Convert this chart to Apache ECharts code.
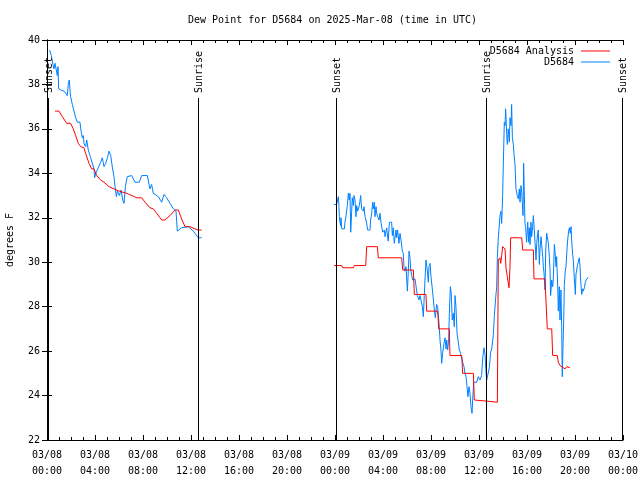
<!DOCTYPE html>
<html>
<head>
<meta charset="utf-8">
<script src="https://cdn.jsdelivr.net/npm/echarts@6/dist/echarts.min.js"></script>
<style>html,body{margin:0;padding:0;background:#fff}#c{width:640px;height:480px}</style>
</head>
<body>
<div id="c"></div>
<script>
// Hours since 03/08 00:00 UTC
const tickDates = ['03/08','03/08','03/08','03/08','03/08','03/08','03/09','03/09','03/09','03/09','03/09','03/09','03/10'];
const tickTimes = ['00:00','04:00','08:00','12:00','16:00','20:00','00:00','04:00','08:00','12:00','16:00','20:00','00:00'];
const yTicks = [22,24,26,28,30,32,34,36,38,40];

const sunLabels = ['Sunset','Sunrise','Sunset','Sunrise','Sunset'];
const sunHours = [0.1, 12.6, 24.08, 36.58, 47.9];

const redH1 = [0.67,1.0,1.28,1.64,1.97,2.19,2.39,2.61,2.81,3.08,3.22,3.5,3.72,3.92,4.14,4.47,4.75,5.17,5.58,6.0,6.64,7.48,7.89,8.17,8.58,8.86,9.14,9.56,9.83,10.25,10.67,10.94,11.22,11.5,11.92,12.33,12.61,12.89];
const redV1 = [36.8,36.8,36.55,36.25,36.25,36.0,35.7,35.35,35.2,35.15,34.9,34.45,34.2,34.2,33.9,33.7,33.6,33.4,33.3,33.2,33.1,32.9,32.9,32.7,32.45,32.4,32.2,31.9,31.9,32.1,32.35,32.35,31.95,31.6,31.6,31.5,31.45,31.45];

const redH2 = [23.92,24.56,24.64,25.53,25.61,26.56,26.64,27.53,27.61,29.56,29.64,30.53,30.61,31.58,31.64,32.56,32.64,33.53,33.58,34.56,34.64,35.53,35.61,36.64,37.53,37.61,37.75,37.81,37.89,37.97,38.17,38.25,38.36,38.5,38.58,38.64,39.56,39.64,40.53,40.58,41.5,41.58,41.69,42.06,42.14,42.53,42.61,42.75,42.89,43.17,43.31,43.58];
const redV2 = [29.85,29.85,29.75,29.75,29.85,29.85,30.7,30.7,30.2,30.2,29.65,29.65,28.55,28.55,27.8,27.8,27.0,27.0,25.8,25.8,25.0,25.0,23.8,23.75,23.7,30.1,30.2,29.95,30.3,30.7,30.6,29.75,29.35,28.85,29.75,31.1,31.1,30.55,30.55,29.25,29.25,28.3,27.0,27.0,25.8,25.8,25.5,25.35,25.3,25.2,25.3,25.25];

const blueH1 = [0.22,0.36,0.5,0.58,0.67,0.78,0.86,0.92,0.97,1.14,1.42,1.69,1.78,1.86,1.92,1.97,2.11,2.25,2.39,2.53,2.75,2.81,2.94,3.03,3.08,3.22,3.31,3.44,3.58,3.64,3.92,3.97,4.06,4.19,4.47,4.61,4.75,4.89,5.03,5.17,5.31,5.44,5.58,5.67,5.78,5.86,6.03,6.17,6.31,6.42,6.53,6.69,7.06,7.33,7.69,7.89,8.36,8.58,8.72,8.86,9.28,9.56,9.75,9.97,10.25,10.53,10.75,10.86,11.22,11.78,12.19,12.61,12.89];
const blueV1 = [39.55,39.3,38.9,38.7,38.95,39.0,38.4,38.8,37.8,37.75,37.7,37.5,38.05,38.2,37.7,37.45,37.1,36.8,36.5,36.3,36.3,36.0,35.6,35.7,35.35,35.2,35.5,35.05,34.8,34.7,34.2,33.8,34.0,34.15,34.5,34.7,34.3,34.45,34.7,35.0,34.8,34.3,33.85,33.4,32.95,33.2,33.0,33.25,32.8,32.65,33.4,33.85,33.9,33.6,33.6,33.9,33.9,33.3,33.5,33.1,32.95,32.7,33.05,32.9,32.65,32.4,32.3,31.4,31.55,31.6,31.4,31.1,31.1];

const blueH2 = [23.92,24.14,24.19,24.28,24.33,24.36,24.42,24.47,24.5,24.56,24.78,24.83,24.92,25.03,25.11,25.19,25.25,25.31,25.39,25.44,25.53,25.58,25.67,25.75,25.81,25.89,26.03,26.14,26.22,26.36,26.42,26.5,26.58,26.64,26.72,26.92,26.97,27.06,27.14,27.19,27.28,27.33,27.42,27.47,27.56,27.67,27.75,27.83,27.97,28.11,28.17,28.31,28.39,28.44,28.53,28.72,28.78,28.86,28.94,29.08,29.14,29.22,29.33,29.42,29.5,29.61,29.69,29.75,29.83,29.92,30.03,30.11,30.17,30.25,30.31,30.47,30.67,30.81,30.86,31.0,31.08,31.17,31.28,31.36,31.44,31.58,31.69,31.78,31.83,31.92,32.0,32.11,32.19,32.28,32.36,32.47,32.56,32.69,32.75,32.83,32.89,32.97,33.08,33.17,33.25,33.31,33.39,33.47,33.53,33.61,33.69,33.77,33.86,33.94,34.0,34.08,34.17,34.25,34.36,34.44,34.56,34.64,34.75,34.83,34.92,35.0,35.08,35.17,35.25,35.33,35.42,35.47,35.56,35.81,35.94,36.08,36.22,36.31,36.42,36.5,36.58,36.64,36.78,36.86,36.97,37.06,37.19,37.28,37.39,37.47,37.53,37.61,37.75,37.83,37.89,37.97,38.03,38.11,38.17,38.22,38.31,38.36,38.44,38.53,38.58,38.67,38.72,38.78,38.86,38.92,39.0,39.08,39.19,39.28,39.36,39.42,39.5,39.56,39.61,39.67,39.72,39.78,39.83,39.89,39.97,40.06,40.14,40.19,40.25,40.33,40.39,40.47,40.53,40.67,40.75,40.81,40.89,40.94,41.03,41.08,41.17,41.22,41.31,41.36,41.42,41.5,41.56,41.64,41.69,41.78,41.86,41.92,41.97,42.06,42.14,42.19,42.28,42.33,42.42,42.47,42.56,42.61,42.69,42.75,42.83,42.89,42.94,43.0,43.06,43.11,43.19,43.25,43.33,43.39,43.47,43.53,43.61,43.67,43.72,43.81,43.86,43.94,44.03,44.08,44.17,44.22,44.36,44.42,44.47,44.56,44.64,44.69,44.78,44.86,44.97,45.11];
const blueV2 = [32.6,32.6,32.75,32.95,32.5,32.05,31.8,31.65,32.0,31.5,31.5,31.8,32.1,32.55,33.1,32.8,33.1,31.35,32.3,32.9,32.55,33.0,32.8,32.05,32.55,32.3,32.55,33.0,32.4,32.3,32.5,32.05,31.9,31.75,31.45,31.45,31.9,32.2,32.7,32.4,32.7,32.05,32.5,32.2,32.05,31.9,32.2,31.8,31.35,31.45,31.15,31.55,31.1,30.95,31.8,31.8,31.2,31.55,30.85,31.45,31.1,31.45,30.85,31.3,31.0,30.5,30.4,29.75,29.6,29.8,28.7,29.6,30.5,30.2,29.65,29.2,29.25,29.2,28.5,28.3,28.5,28.3,28.0,27.55,28.5,30.1,29.65,29.1,29.8,29.95,29.35,28.8,28.35,27.85,27.5,28.1,27.95,27.1,26.5,26.05,25.45,25.9,26.35,26.6,26.1,26.5,26.05,26.5,27.7,28.9,28.6,27.4,27.7,27.1,28.5,28.0,26.8,26.5,26.05,25.95,25.9,25.5,25.3,25.0,24.85,24.4,23.95,24.4,24.1,23.5,23.2,23.8,24.6,24.6,24.85,24.7,24.9,25.7,26.15,25.85,25.1,24.7,24.7,25.25,25.95,26.1,26.7,27.6,28.4,28.85,30.2,31.1,32.1,32.3,31.75,33.0,34.5,36.3,36.15,36.9,35.75,35.3,36.0,35.4,36.5,36.15,37.1,35.6,35.3,34.85,34.4,33.3,33.0,32.85,33.3,32.7,33.45,33.15,32.7,32.1,34.45,33.0,31.75,31.55,30.9,31.8,30.9,31.55,30.8,31.8,31.15,31.6,32.1,30.9,30.1,30.85,31.3,31.45,29.9,30.55,31.15,30.8,30.25,29.8,29.5,28.75,30.55,31.3,31.15,30.85,30.25,29.65,28.5,29.2,28.9,29.2,30.8,30.5,29.8,30.25,28.9,27.8,28.9,27.4,28.75,27.1,24.85,26.2,27.4,28.95,29.6,29.8,30.55,31.0,31.4,31.55,31.3,31.6,31.0,30.3,30.1,29.3,28.55,29.45,29.45,29.9,30.2,29.8,29.2,28.55,28.8,28.7,28.85,29.1,29.25,29.3];

function pairs(hs, vs) { return hs.map((h, i) => [h, vs[i]]); }
function joinSegs(a, b) { return a.concat([[18, null]], b); }

const FONT = 'DejaVu Sans Mono';
const chart = echarts.init(document.getElementById('c'), null, {renderer: 'canvas'});

const axisCommon = {
  axisLine: {lineStyle: {color: '#000', width: 1}},
  axisTick: {show: true, inside: true, length: 5, lineStyle: {color: '#000'}},
  splitLine: {show: false}
};

chart.setOption({
  animation: false,
  backgroundColor: '#fff',
  title: {
    text: 'Dew Point for D5684 on 2025-Mar-08 (time in UTC)',
    left: 183, top: 10,
    textStyle: {fontFamily: FONT, fontSize: 10, fontWeight: 'normal', color: '#000'}
  },
  legend: {
    orient: 'vertical', right: 25, top: 41, align: 'right',
    icon: 'rect', itemWidth: 29, itemHeight: 1, itemGap: 1,
    textStyle: {fontFamily: FONT, fontSize: 10, color: '#000', padding: [0, 2, 0, 0]},
    data: ['D5684 Analysis', 'D5684']
  },
  grid: {left: 47, right: 17, top: 40, bottom: 40, outerBoundsMode: 'none', containLabel: false},
  xAxis: [
    Object.assign({}, axisCommon, {
      type: 'value', min: 0, max: 48, interval: 4, position: 'bottom',
      minorTick: {show: true, splitNumber: 4, length: 3, lineStyle: {color: '#000'}},
      axisLabel: {
        fontFamily: FONT, fontSize: 10, color: '#000', margin: 7, lineHeight: 16,
        formatter: v => { const i = Math.round(v / 4); return tickDates[i] + '\n' + tickTimes[i]; }
      }
    }),
    Object.assign({}, axisCommon, {
      type: 'value', min: 0, max: 48, interval: 4, position: 'top',
      minorTick: {show: true, splitNumber: 4, length: 3, lineStyle: {color: '#000'}},
      axisLabel: {show: false}
    })
  ],
  yAxis: [
    Object.assign({}, axisCommon, {
      type: 'value', min: yTicks[0], max: yTicks[yTicks.length - 1], interval: 2, position: 'left',
      name: 'degrees F', nameLocation: 'middle', nameGap: 32, nameRotate: 90,
      nameTextStyle: {fontFamily: FONT, fontSize: 10, color: '#000'},
      axisLabel: {fontFamily: FONT, fontSize: 10, color: '#000', margin: 7}
    }),
    Object.assign({}, axisCommon, {
      type: 'value', min: yTicks[0], max: yTicks[yTicks.length - 1], interval: 2, position: 'right',
      axisLabel: {show: false}
    })
  ],
  series: [
    {
      name: 'D5684 Analysis', type: 'line', symbol: 'none', connectNulls: false,
      lineStyle: {color: '#ff0000', width: 1}, itemStyle: {color: '#ff0000'},
      data: joinSegs(pairs(redH1, redV1), pairs(redH2, redV2)), z: 3
    },
    {
      name: 'D5684', type: 'line', symbol: 'none', connectNulls: false,
      lineStyle: {color: '#0080ff', width: 1}, itemStyle: {color: '#0080ff'},
      data: joinSegs(pairs(blueH1, blueV1), pairs(blueH2, blueV2)), z: 2
    }
  ]
});

// Sunrise / sunset markers, positioned through the chart's own scales
const yBottom = chart.convertToPixel({yAxisIndex: 0}, 22);
const yTop = chart.convertToPixel({yAxisIndex: 0}, 37.39);
const graphics = [];
sunLabels.forEach((lab, i) => {
  const x = Math.round(chart.convertToPixel({xAxisIndex: 0}, sunHours[i])) + 0.5;
  graphics.push({
    type: 'line', silent: true,
    shape: {x1: x, y1: yTop, x2: x, y2: yBottom},
    style: {stroke: '#000', lineWidth: 1}, z: 10
  });
  graphics.push({
    type: 'text', silent: true, x: x + 1, y: yTop - 5, rotation: Math.PI / 2,
    style: {text: lab, fontFamily: FONT, fontSize: 10, fill: '#000', textAlign: 'left', textVerticalAlign: 'middle'},
    z: 10
  });
});
chart.setOption({graphic: graphics});
</script>
</body>
</html>
